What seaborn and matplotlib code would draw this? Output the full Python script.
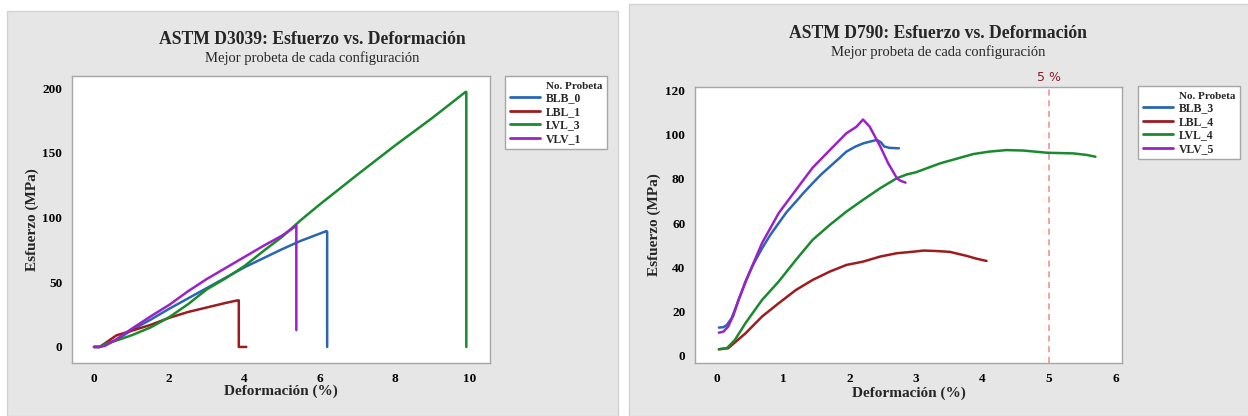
import numpy as np
import pandas as pd
import matplotlib
matplotlib.use("Agg")
import matplotlib.pyplot as plt
import matplotlib.patches as mpatches
from matplotlib.lines import Line2D
import seaborn as sns

# ---------------- data: ASTM D3039 (left) ----------------
blb0_x = [0, 0.15, 0.3, 0.6, 1.0, 1.5, 2.0, 2.5, 3.0, 3.5, 4.0, 4.5, 5.0, 5.5, 6.0, 6.18, 6.2, 6.2]
blb0_y = [0, 0, 1.5, 5.5, 13, 21, 29.5, 37.5, 45.5, 53.5, 61.5, 68.5, 75.5, 82, 87.5, 89.5, 89, 0]
lbl1_x = [0, 0.15, 0.3, 0.5, 0.6, 1.0, 1.5, 2.0, 2.5, 3.0, 3.5, 3.82, 3.85, 3.85, 4.05]
lbl1_y = [0, 0, 3, 7, 9, 12.5, 17, 22.5, 27, 30.5, 34, 36, 36, 0, 0]
lvl3_x = [0, 0.15, 0.3, 0.6, 1.0, 1.5, 2.0, 2.5, 3.0, 3.5, 4.0, 4.5, 5.0, 5.5, 6.0, 7.0, 8.0, 9.0, 9.88, 9.9, 9.9]
lvl3_y = [0, 0, 2.5, 5, 9, 15, 23, 33, 44.5, 53, 62.5, 74, 85, 98, 110, 133, 155.5, 177, 197, 197, 0]
vlv1_x = [0, 0.15, 0.3, 0.6, 1.0, 1.5, 2.0, 2.5, 3.0, 3.5, 4.0, 4.5, 5.0, 5.3, 5.38, 5.38]
vlv1_y = [0, 0, 1, 6, 14, 23.5, 32.5, 43, 52.5, 61, 69.5, 78, 86, 92, 94, 13]
left_names = ["BLB_0", "LBL_1", "LVL_3", "VLV_1"]

# ---------------- data: ASTM D790 (right) ----------------
blb3_x = [0.03, 0.1, 0.15, 0.22, 0.3, 0.43, 0.55, 0.68, 0.8, 0.93, 1.05, 1.19, 1.3, 1.44, 1.57,
          1.70, 1.83, 1.95, 2.08, 2.2, 2.3, 2.41, 2.47, 2.52, 2.6, 2.74]
blb3_y = [12.8, 13, 14, 17, 23, 33.6, 41.5, 48.6, 54.5, 60, 65, 69.7, 73.5, 78, 82,
          85.5, 89, 92.3, 94.5, 96, 96.8, 97.6, 96.5, 94.6, 94, 93.8]
lbl4_x = [0.03, 0.17, 0.43, 0.68, 0.93, 1.19, 1.44, 1.70, 1.95, 2.2, 2.46, 2.71, 2.96, 3.11,
          3.3, 3.51, 3.76, 3.9, 4.06]
lbl4_y = [3, 3.5, 10.2, 17.8, 23.8, 29.8, 34.3, 38.1, 41.1, 42.6, 44.9, 46.4, 47.1, 47.6,
          47.4, 47, 45.2, 44, 42.9]
lvl4_x = [0.03, 0.15, 0.27, 0.43, 0.68, 0.93, 1.19, 1.44, 1.70, 1.95, 2.2, 2.46, 2.71, 2.86,
          3.0, 3.36, 3.86, 4.1, 4.36, 4.61, 4.97, 5.37, 5.57, 5.7]
lvl4_y = [3, 3.5, 7.2, 14.8, 25.3, 33.6, 43.4, 52.4, 59.2, 65.2, 70.5, 75.8, 80.3, 82,
          83, 87, 91.2, 92.3, 93, 92.8, 91.8, 91.5, 90.8, 90]
vlv5_x = [0.03, 0.1, 0.17, 0.25, 0.32, 0.48, 0.68, 0.93, 1.19, 1.44, 1.70, 1.95, 2.1, 2.2,
          2.3, 2.46, 2.58, 2.71, 2.76, 2.84]
vlv5_y = [10.5, 11, 13.3, 18.5, 25, 37, 51, 64.5, 75, 85, 93, 100.6, 103.5, 106.8,
          103.6, 94.6, 87, 80.3, 79.2, 78.3]
right_names = ["BLB_3", "LBL_4", "LVL_4", "VLV_5"]

left_x_ticks = [0, 2, 4, 6, 8, 10]
left_y_ticks = [0, 50, 100, 150, 200]
right_x_ticks = [0, 1, 2, 3, 4, 5, 6]
right_y_ticks = [0, 20, 40, 60, 80, 100, 120]
ref_strain = 5

colors = ["#2a66b4", "#9e1b1f", "#1a8a2e", "#9b22c8"]


def make_df(xs, ys, names):
    frames = []
    for x, y, n in zip(xs, ys, names):
        frames.append(pd.DataFrame({"x": x, "y": y, "Probeta": n}))
    return pd.concat(frames, ignore_index=True)


df_left = make_df([blb0_x, lbl1_x, lvl3_x, vlv1_x], [blb0_y, lbl1_y, lvl3_y, vlv1_y], left_names)
df_right = make_df([blb3_x, lbl4_x, lvl4_x, vlv5_x], [blb3_y, lbl4_y, lvl4_y, vlv5_y], right_names)

sns.set_theme(style="white")
plt.rcParams["font.family"] = ["Liberation Serif", "DejaVu Serif"]

W, H = 1248, 416
fig = plt.figure(figsize=(W / 100, H / 100), dpi=100)
fig.patch.set_facecolor("white")

PANEL = "#e6e6e6"
# gray panels (behind the axes)
fig.patches.append(mpatches.Rectangle((7 / W, 0), (618 - 7) / W, (416 - 11) / H,
                                      transform=fig.transFigure, facecolor=PANEL,
                                      edgecolor="#d2d2d2", lw=1.0, zorder=-10))
fig.patches.append(mpatches.Rectangle((629 / W, 0), (1250 - 629) / W, (416 - 4) / H,
                                      transform=fig.transFigure, facecolor=PANEL,
                                      edgecolor="#d2d2d2", lw=1.0, zorder=-10))


def px_axes(l, t, r, b):
    return fig.add_axes([l / W, 1 - b / H, (r - l) / W, (b - t) / H])


SPINE = "#a6a6a6"


def style_axes(ax, xticks, yticks, xlim, ylim):
    ax.set_facecolor("white")
    ax.set_xlim(*xlim)
    ax.set_ylim(*ylim)
    ax.set_xticks(xticks)
    ax.set_yticks(yticks)
    for s in ax.spines.values():
        s.set_color(SPINE)
        s.set_linewidth(1.0)
    ax.tick_params(axis="both", which="major", direction="out", length=4, width=1,
                   color=SPINE, labelsize=9.5, labelcolor="black", pad=3)
    for lab in ax.get_xticklabels() + ax.get_yticklabels():
        lab.set_fontweight("bold")
    ax.grid(False)
    ax.set_xlabel("Deformación (%)", fontsize=11, fontweight="bold")
    ax.set_ylabel("Esfuerzo (MPa)", fontsize=11, fontweight="bold")


def add_legend(names, x, y):
    handles = [Line2D([], [], color="none")]
    handles += [Line2D([], [], color=c, lw=2) for c in colors]
    labels = ["No. Probeta"] + names
    leg = fig.legend(handles, labels, loc="upper left", bbox_to_anchor=(x / W, 1 - y / H),
                     bbox_transform=fig.transFigure, frameon=True, fancybox=False,
                     fontsize=8.5, handlelength=2.6, handletextpad=0.45,
                     labelspacing=0.12, borderpad=0.4, borderaxespad=0)
    leg.get_frame().set_edgecolor(SPINE)
    leg.get_frame().set_linewidth(1.0)
    leg.get_frame().set_facecolor("white")
    leg.get_frame().set_alpha(1.0)
    texts = leg.get_texts()
    texts[0].set_fontsize(8)
    for t in texts:
        t.set_fontweight("bold")
    return leg


# ---------- left ----------
axL = px_axes(72, 76, 490, 363)
sns.lineplot(data=df_left, x="x", y="y", hue="Probeta", palette=colors, sort=False,
             estimator=None, units="Probeta", lw=1.8, ax=axL, legend=False)
style_axes(axL, left_x_ticks, left_y_ticks, (-0.585, 10.53), (-12.4, 209.3))
axL.xaxis.set_label_coords(0.5, -0.098)
axL.xaxis.label.set_va("center")
axL.yaxis.set_label_coords(-0.0957, 0.5)
axL.yaxis.label.set_va("center")
add_legend(left_names, 505, 76)
fig.text(312 / W, 1 - 39 / H, "ASTM D3039: Esfuerzo vs. Deformación", ha="center", va="center",
         fontsize=12.7, fontweight="bold")
fig.text(312 / W, 1 - 58 / H, "Mejor probeta de cada configuración", ha="center", va="center",
         fontsize=10.5)

# ---------- right ----------
axR = px_axes(695, 87, 1122, 363)
sns.lineplot(data=df_right, x="x", y="y", hue="Probeta", palette=colors, sort=False,
             estimator=None, units="Probeta", lw=1.8, ax=axR, legend=False)
style_axes(axR, right_x_ticks, right_y_ticks, (-0.33, 6.1), (-3.2, 121.5))
axR.axvline(ref_strain, color="#f08a8a", lw=1.1, ls=(0, (4, 3)), zorder=1)
axR.text(ref_strain, 1.036, "5 %", transform=axR.get_xaxis_transform(), ha="center",
         va="center", fontsize=9, color="#8e1c2c", family="DejaVu Sans")
axR.xaxis.set_label_coords(0.5, -0.108)
axR.xaxis.label.set_va("center")
axR.yaxis.set_label_coords(-0.096, 0.5)
axR.yaxis.label.set_va("center")
add_legend(right_names, 1138, 86)
fig.text(938 / W, 1 - 33 / H, "ASTM D790: Esfuerzo vs. Deformación", ha="center", va="center",
         fontsize=12.7, fontweight="bold")
fig.text(938 / W, 1 - 52 / H, "Mejor probeta de cada configuración", ha="center", va="center",
         fontsize=10.5)

fig.savefig("out.png", dpi=100, facecolor=fig.get_facecolor())
